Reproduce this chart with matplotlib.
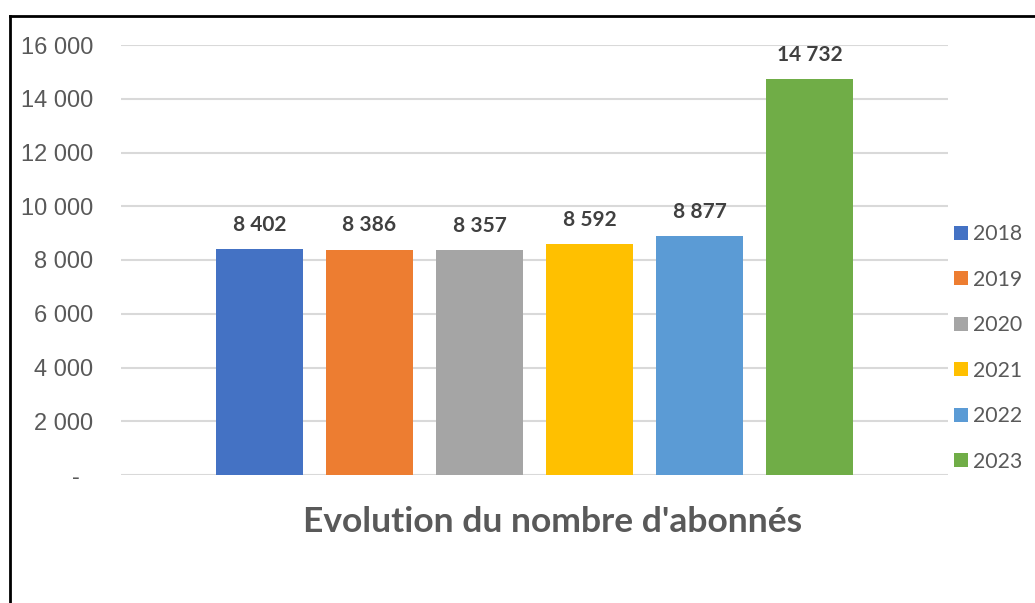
import matplotlib.pyplot as plt
from matplotlib.lines import Line2D

years = ["2018", "2019", "2020", "2021", "2022", "2023"]
subscribers = [8402, 8386, 8357, 8592, 8877, 14732]
colors = ["#4472C4", "#ED7D31", "#A5A5A5", "#FFC000", "#5B9BD5", "#70AD47"]
yticks = [0, 2000, 4000, 6000, 8000, 10000, 12000, 14000, 16000]


def fmt(v):
    # accounting style: zero shown as a dash, indented from the right
    return "-  " if v == 0 else f"{v:,}".replace(",", " ")


fig = plt.figure(figsize=(10.35, 6.03), dpi=100)
ax = fig.add_axes([121 / 1035, 1 - 475 / 603, (948 - 121) / 1035, 430 / 603])

for i, (yr, v, c) in enumerate(zip(years, subscribers, colors)):
    ax.bar(i, v, width=0.79, color=c, label=yr, zorder=3)
    ax.annotate(fmt(v), (i, v), xytext=(0, 17.5), textcoords="offset points",
                ha="center", va="center", fontsize=15, fontweight="bold",
                color="#404040", family="Lato")

ax.set_xlim(-1.259, 6.259)
ax.set_ylim(0, 16000)
ax.set_yticks(yticks)
ax.set_yticklabels([fmt(t) for t in yticks], family="Liberation Sans",
                   fontsize=17, color="#595959")
ax.tick_params(axis="y", length=0, pad=20)
ax.set_xticks([])
ax.grid(axis="y", color="#d9d9d9", linewidth=1.5, zorder=0)
for s in ax.spines.values():
    s.set_visible(False)

fig.text(553 / 1035, 1 - 522 / 603, "Evolution du nombre d'abonnés",
         ha="center", va="center", fontsize=25.5, fontweight="bold",
         color="#595959", family="Lato")

leg = fig.legend(loc="center left", bbox_to_anchor=(954 / 1035, 1 - 348 / 603),
                 frameon=False, borderpad=0, borderaxespad=0,
                 handlelength=0.66, handleheight=0.66, handletextpad=0.25,
                 labelspacing=1.2, prop={"family": "Lato", "size": 15.3})
for t in leg.get_texts():
    t.set_color("#595959")

# outer frame (left and top edges visible in the crop)
fig.add_artist(Line2D([10 / 1035, 10 / 1035], [0, 1 - 16 / 603],
                      color="black", linewidth=2, transform=fig.transFigure))
fig.add_artist(Line2D([10 / 1035, 1], [1 - 16 / 603, 1 - 16 / 603],
                      color="black", linewidth=2, transform=fig.transFigure))

fig.savefig("out.png", dpi=100)
